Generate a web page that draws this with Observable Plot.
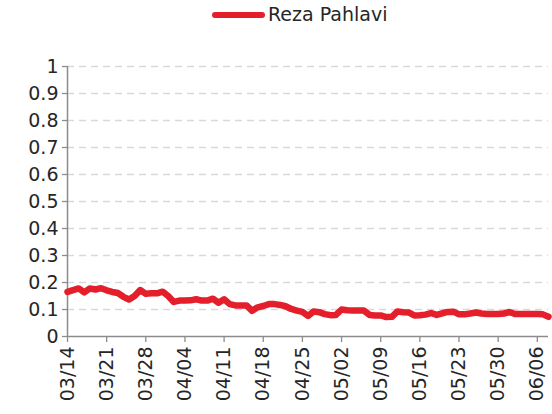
<!DOCTYPE html>
<html>
<head>
<meta charset="utf-8">
<script src="https://cdn.jsdelivr.net/npm/d3@7"></script>
<script src="https://cdn.jsdelivr.net/npm/@observablehq/plot@0.6"></script>
<style>
  html, body { margin: 0; padding: 0; background: #fff; }
  #wrap { position: relative; width: 552px; height: 414px; font-family: "DejaVu Sans", sans-serif; }
  #legend { position: relative; height: 30px; width: 552px; }
  #legend .sw { position: absolute; left: 212px; top: 12px; width: 53px; height: 6px; border-radius: 3px; background: #E41E2B; }
  #legend .lb { position: absolute; left: 268px; top: 3px; font-size: 19px; color: #262626; line-height: 22px; }
</style>
</head>
<body>
<div id="wrap">
  <div id="legend"><div class="sw"></div><div class="lb">Reza Pahlavi</div></div>
  <div id="chart"></div>
</div>
<script>
const seriesName = "Reza Pahlavi";
const startDate = "2025-03-14";
const values = [
  0.165, 0.172, 0.178, 0.163, 0.178, 0.174, 0.179, 0.171, 0.165, 0.161,
  0.147, 0.137, 0.150, 0.172, 0.158, 0.160, 0.160, 0.166, 0.150, 0.128,
  0.133, 0.133, 0.134, 0.138, 0.133, 0.133, 0.140, 0.125, 0.138, 0.120,
  0.115, 0.115, 0.115, 0.095, 0.108, 0.113, 0.120, 0.120, 0.117, 0.112,
  0.102, 0.096, 0.091, 0.076, 0.093, 0.090, 0.083, 0.079, 0.080, 0.100,
  0.097, 0.096, 0.096, 0.096, 0.080, 0.078, 0.078, 0.072, 0.073, 0.093,
  0.090, 0.089, 0.078, 0.079, 0.081, 0.087, 0.080, 0.086, 0.091, 0.092,
  0.082, 0.082, 0.085, 0.089, 0.085, 0.083, 0.083, 0.083, 0.085, 0.091,
  0.083, 0.083, 0.083, 0.083, 0.083, 0.082, 0.073
];
const xTickLabels = ["03/14","03/21","03/28","04/04","04/11","04/18","04/25","05/02","05/09","05/16","05/23","05/30","06/06"];
const yTicks = [0, 0.1, 0.2, 0.3, 0.4, 0.5, 0.6, 0.7, 0.8, 0.9, 1];
const yTickLabels = ["0","0.1","0.2","0.3","0.4","0.5","0.6","0.7","0.8","0.9","1"];

const DAY = 86400000;
const start = new Date(startDate + "T00:00:00Z");
const data = values.map((v, i) => ({date: new Date(+start + i * DAY), value: v}));
const end = data[data.length - 1].date;
const xTicks = xTickLabels.map(s => new Date("2025-" + s.replace("/", "-") + "T00:00:00Z"));

const chart = Plot.plot({
  width: 552,
  height: 384,
  marginTop: 36,
  marginBottom: 78,
  marginLeft: 67,
  marginRight: 4,
  style: {fontFamily: "'DejaVu Sans', sans-serif", fontSize: "19px", color: "#262626", background: "#fff", overflow: "visible"},
  x: {type: "utc", domain: [start, end]},
  y: {domain: [0, 1]},
  marks: [
    Plot.ruleY(yTicks.slice(1), {stroke: "#d9d9d9", strokeWidth: 1.3, strokeDasharray: "7,5"}),
    Plot.axisY({ticks: yTicks, tickFormat: d => yTickLabels[yTicks.indexOf(d)], label: null, tickSize: 5, tickPadding: 4, stroke: "#8c8c8c", strokeWidth: 1.3, fontSize: 19, fill: "#262626"}),
    Plot.axisX({ticks: xTicks, tickFormat: d => xTickLabels[xTicks.findIndex(t => +t === +d)], label: null, tickRotate: -90, tickSize: 6, tickPadding: 4, stroke: "#8c8c8c", strokeWidth: 1.3, fontSize: 19, fill: "#262626"}),
    Plot.ruleX([start], {stroke: "#8c8c8c", strokeWidth: 1.5}),
    Plot.ruleY([0], {stroke: "#8c8c8c", strokeWidth: 1.5}),
    Plot.lineY(data, {x: "date", y: "value", stroke: "#E41E2B", strokeWidth: 6.5, strokeLinejoin: "round", strokeLinecap: "round"})
  ]
});
document.getElementById("chart").appendChild(chart);
</script>
</body>
</html>
